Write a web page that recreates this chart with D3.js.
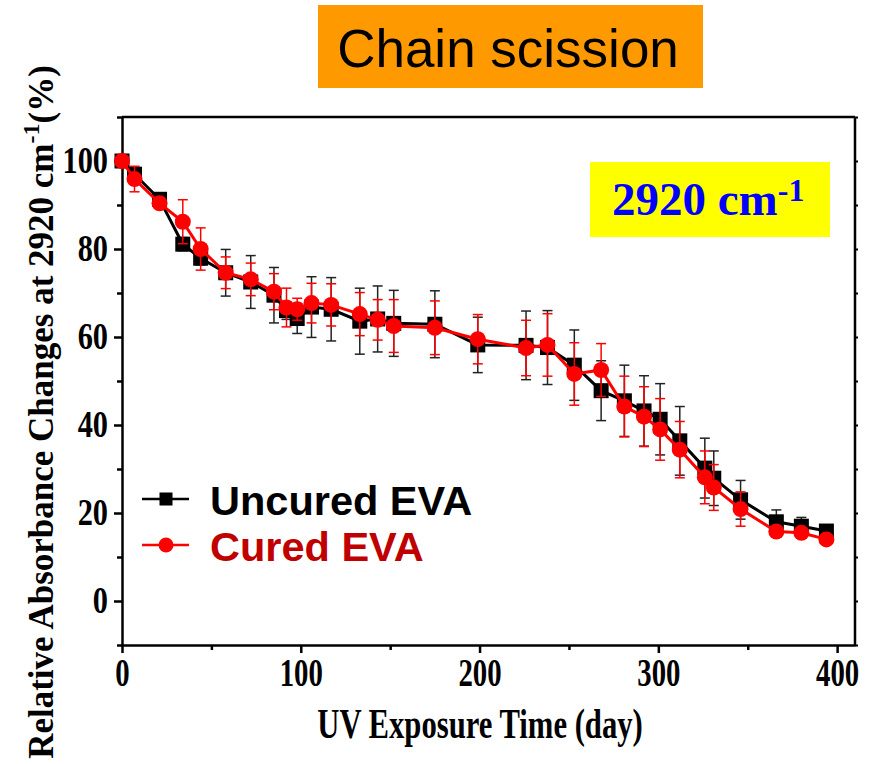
<!DOCTYPE html>
<html>
<head>
<meta charset="utf-8">
<script src="https://cdn.jsdelivr.net/npm/d3@7"></script>
<style>
  html, body { margin: 0; padding: 0; background: #fff; }
  svg { display: block; }
</style>
</head>
<body>
<svg id="chart" width="871" height="764"></svg>
<script>
// ---- data ----
const days = [0, 7, 21, 34, 44, 58, 72, 85, 92, 98, 106, 117, 133, 143, 152, 175, 199, 226, 238, 253, 268, 281, 292, 301, 312, 326, 331, 346, 366, 380, 394];
const uncuredValues = [100, 97, 91.3, 81.1, 77.9, 74.6, 72.5, 69.5, 66, 64.2, 66.8, 66.3, 63.6, 64.1, 63.1, 62.9, 58.2, 58.1, 57.6, 53.6, 47.8, 45.5, 43.2, 41.3, 36.4, 30.2, 27.9, 23, 18, 17, 15.9];
const uncuredErrors = [0, 1.5, 1, 1.5, 1.5, 5.3, 6, 6.3, 2, 3.4, 6.9, 7.2, 7.5, 7.5, 7.5, 7.6, 6.3, 7.8, 8.4, 8, 6.8, 8.1, 8, 8.1, 7.8, 6.8, 6.2, 4.4, 2.7, 2, 1];
const curedValues = [100, 95.9, 90.4, 86.2, 80, 74.6, 73.1, 70.3, 66.7, 66.3, 67.7, 67.3, 65.2, 63.9, 62.5, 62.1, 59.5, 57.5, 58.2, 51.6, 52.5, 44.2, 41.9, 39, 34.4, 28.1, 25.8, 20.9, 15.8, 15.5, 14.0];
const curedErrors = [0.5, 2.9, 1, 5, 4.8, 3.6, 3.7, 4.1, 4.4, 2.5, 4.5, 4.8, 4.9, 4.6, 6, 6.1, 5.6, 6.3, 7.1, 7.1, 6, 6.9, 6.8, 7, 6.4, 6, 5.2, 3.9, 1, 1, 0.5];
const xTicks = [0, 100, 200, 300, 400];
const xMinorTicks = [50, 150, 250, 350];
const yTicks = [0, 20, 40, 60, 80, 100];
const yMinorTicks = [-10, 10, 30, 50, 70, 90, 110];
const seriesNames = ["Uncured EVA", "Cured EVA"];
const titleText = "Chain scission";
const xTitle = "UV Exposure Time (day)";

// ---- layout ----
const svg = d3.select("#chart");
const x = d3.scaleLinear().domain([0, 410]).range([122, 855]);
const y = d3.scaleLinear().domain([-10, 110]).range([645, 117]);
const serif = "'Liberation Serif','Times New Roman',serif";
const sans = "'Liberation Sans',Arial,sans-serif";

// title box
svg.append("rect").attr("x", 318).attr("y", 5).attr("width", 385).attr("height", 83).attr("fill", "#FF9900");
svg.append("text").attr("x", 508).attr("y", 67).attr("text-anchor", "middle")
  .attr("font-family", sans).attr("font-size", 53).attr("fill", "#000").text(titleText);

// plot frame
const frame = svg.append("g");
frame.append("line").attr("x1", x(0)).attr("x2", x(410)).attr("y1", y(110)).attr("y2", y(110)).attr("stroke", "#000").attr("stroke-width", 2.5);
frame.append("line").attr("x1", x(410)).attr("x2", x(410)).attr("y1", y(110)).attr("y2", y(-10)).attr("stroke", "#000").attr("stroke-width", 2.5);

// right axis small ticks
const rightAxis = d3.axisRight(y).tickValues(d3.range(-10, 111, 10)).tickSize(3).tickFormat("");
svg.append("g").attr("transform", `translate(${x(410)},0)`).call(rightAxis)
  .call(g => g.select(".domain").remove())
  .call(g => g.selectAll("line").attr("stroke-width", 2));

// left axis
const gy = svg.append("g").attr("transform", `translate(${x(0)},0)`);
gy.call(d3.axisLeft(y).tickValues(yTicks).tickSize(8).tickPadding(4).tickSizeOuter(0))
  .call(g => g.select(".domain").attr("stroke-width", 2.5))
  .call(g => g.selectAll(".tick line").attr("stroke-width", 2.5))
  .call(g => g.selectAll("text").attr("font-family", serif).attr("font-weight", "bold").attr("font-size", 37).attr("fill", "#000")
    .attr("transform", "scale(0.82,1)").attr("x", -14 / 0.82));
svg.append("g").attr("transform", `translate(${x(0)},0)`)
  .call(d3.axisLeft(y).tickValues(yMinorTicks).tickSize(5).tickFormat(""))
  .call(g => g.select(".domain").remove())
  .call(g => g.selectAll("line").attr("stroke-width", 2.5));

// bottom axis
const gx = svg.append("g").attr("transform", `translate(0,${y(-10)})`);
gx.call(d3.axisBottom(x).tickValues(xTicks).tickSize(8).tickPadding(5).tickSizeOuter(0))
  .call(g => g.select(".domain").attr("stroke-width", 2.5))
  .call(g => g.selectAll(".tick line").attr("stroke-width", 2.5))
  .call(g => g.selectAll("text").attr("font-family", serif).attr("font-weight", "bold").attr("font-size", 40).attr("fill", "#000")
    .attr("transform", "scale(0.72,1)"));
svg.append("g").attr("transform", `translate(0,${y(-10)})`)
  .call(d3.axisBottom(x).tickValues(xMinorTicks).tickSize(5).tickFormat(""))
  .call(g => g.select(".domain").remove())
  .call(g => g.selectAll("line").attr("stroke-width", 2.5));

// axis titles
svg.append("text").attr("transform", "translate(480,738) scale(0.73,1)").attr("text-anchor", "middle")
  .attr("font-family", serif).attr("font-weight", "bold").attr("font-size", 42).attr("fill", "#000").text(xTitle);

const yt = svg.append("text").attr("transform", "translate(53,412) rotate(-90)").attr("text-anchor", "middle")
  .attr("font-family", serif).attr("font-weight", "bold").attr("font-size", 35).attr("fill", "#000");
yt.append("tspan").text("Relative Absorbance Changes at 2920 cm");
yt.append("tspan").attr("dy", -14).attr("font-size", 24).text("-1");
yt.append("tspan").attr("dy", 14).text("(%)");

// series
function drawSeries(values, errors, color, errColor, marker) {
  const g = svg.append("g");
  const data = days.map((d, i) => ({ d, v: values[i], e: errors[i] }));
  const eb = g.append("g").attr("stroke", errColor).attr("stroke-width", 1.5);
  data.forEach(p => {
    if (p.e <= 0) return;
    eb.append("line").attr("x1", x(p.d)).attr("x2", x(p.d)).attr("y1", y(p.v - p.e)).attr("y2", y(p.v + p.e));
    eb.append("line").attr("x1", x(p.d) - 5).attr("x2", x(p.d) + 5).attr("y1", y(p.v - p.e)).attr("y2", y(p.v - p.e));
    eb.append("line").attr("x1", x(p.d) - 5).attr("x2", x(p.d) + 5).attr("y1", y(p.v + p.e)).attr("y2", y(p.v + p.e));
  });
  g.append("path").datum(data).attr("fill", "none").attr("stroke", color).attr("stroke-width", 3)
    .attr("d", d3.line().x(p => x(p.d)).y(p => y(p.v)));
  if (marker === "square") {
    g.selectAll("rect").data(data).join("rect")
      .attr("x", p => x(p.d) - 7.5).attr("y", p => y(p.v) - 7.5).attr("width", 15).attr("height", 15).attr("fill", color);
  } else {
    g.selectAll("circle").data(data).join("circle")
      .attr("cx", p => x(p.d)).attr("cy", p => y(p.v)).attr("r", 8).attr("fill", color);
  }
}
drawSeries(uncuredValues, uncuredErrors, "#000", "#222", "square");
drawSeries(curedValues, curedErrors, "#FF0000", "#FF0000", "circle");

// annotation box
svg.append("rect").attr("x", 590).attr("y", 162).attr("width", 240).attr("height", 75).attr("fill", "#FFFF00");
const ann = svg.append("text").attr("x", 612).attr("y", 215)
  .attr("font-family", serif).attr("font-weight", "bold").attr("font-size", 47).attr("fill", "#0000FF");
ann.append("tspan").text("2920 cm");
ann.append("tspan").attr("dy", -14).attr("font-size", 32).text("-1");

// legend
const legend = svg.append("g");
const legItems = [
  { name: seriesNames[0], color: "#000", text: "#000", marker: "square", yy: 499 },
  { name: seriesNames[1], color: "#FF0000", text: "#C00000", marker: "circle", yy: 545 }
];
legItems.forEach(it => {
  legend.append("line").attr("x1", 142).attr("x2", 189).attr("y1", it.yy).attr("y2", it.yy).attr("stroke", it.color).attr("stroke-width", 2.5);
  if (it.marker === "square") legend.append("rect").attr("x", 159.5).attr("y", it.yy - 6.5).attr("width", 13).attr("height", 13).attr("fill", it.color);
  else legend.append("circle").attr("cx", 166).attr("cy", it.yy).attr("r", 7.5).attr("fill", it.color);
  legend.append("text").attr("x", 210).attr("y", it.yy + 16).attr("font-family", sans).attr("font-weight", "bold")
    .attr("font-size", 41.5).attr("fill", it.text).text(it.name);
});
</script>
</body>
</html>
